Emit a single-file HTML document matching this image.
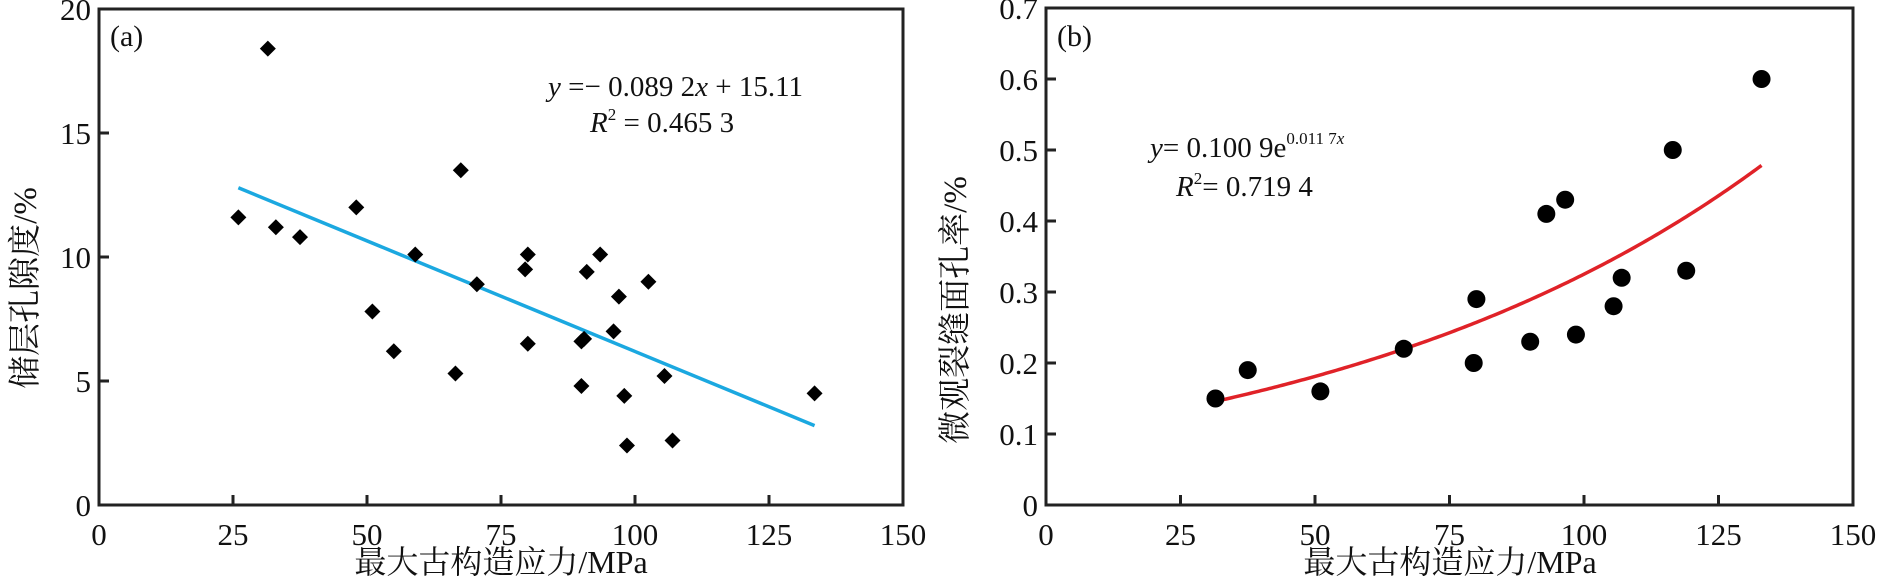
<!DOCTYPE html>
<html><head><meta charset="utf-8"><style>
body{margin:0;background:#fff}
svg text{font-family:"Liberation Serif","Noto Serif CJK SC",serif;fill:#111}
</style></head><body>
<svg id="s" width="1880" height="580" xmlns="http://www.w3.org/2000/svg"></svg>
<script>
const ax=[26,31.5,33,37.5,48,51,55,59,66.5,67.5,70.5,79.5,80,80,90,90,90.5,91,93.5,96,97,98,98.5,102.5,105.5,107,133.5];
const ay=[11.6,18.4,11.2,10.8,12,7.8,6.2,10.1,5.3,13.5,8.9,9.5,10.1,6.5,4.8,6.6,6.7,9.4,10.1,7,8.4,4.4,2.4,9,5.2,2.6,4.5];
const bx=[31.5,37.5,51,66.5,79.5,80,90,93,96.5,98.5,105.5,107,116.5,119,133];
const by=[0.15,0.19,0.16,0.22,0.2,0.29,0.23,0.41,0.43,0.24,0.28,0.32,0.5,0.33,0.6];
const xTicks=[0,25,50,75,100,125,150];
const ayTicks=[0,5,10,15,20];
const byTicks=[0,0.1,0.2,0.3,0.4,0.5,0.6,0.7];
const NS="http://www.w3.org/2000/svg",S=document.getElementById('s');
function el(t,a,txt){const e=document.createElementNS(NS,t);for(const k in a)e.setAttribute(k,a[k]);if(txt!==undefined)e.textContent=txt;S.appendChild(e);return e;}
function panel(L,R,T,B,ymax,yTicks,fmt,pfx){
  const X=v=>L+(R-L)*v/150, Y=v=>B-(B-T)*v/ymax;
  let f=el('rect',{x:L,y:T,width:R-L,height:B-T,fill:'none',stroke:'#222','stroke-width':3});
  
  
  xTicks.forEach(v=>{
    let l=el('line',{x1:X(v),x2:X(v),y1:B,y2:B-10,stroke:'#222','stroke-width':3});
    
    
    let t=el('text',{x:X(v),y:B+40,'font-size':31,'text-anchor':'middle'},v);
    
    
  });
  yTicks.forEach(v=>{
    let l=el('line',{x1:L,x2:L+10,y1:Y(v),y2:Y(v),stroke:'#222','stroke-width':3});
    
    
    let t=el('text',{x:L-8,y:Y(v)+11,'font-size':31,'text-anchor':'end'},fmt(v));
    
    
  });
  return {X,Y};
}
const A=panel(99,903,9,505,20,ayTicks,v=>v,'a');
const B=panel(1046,1853,8,505,0.7,byTicks,v=>v===0?'0':v.toFixed(1),'b');
let ln=el('line',{x1:A.X(26),y1:A.Y(-0.0892*26+15.11),x2:A.X(133.5),y2:A.Y(-0.0892*133.5+15.11),stroke:'#1ba8e0','stroke-width':3.5});


ax.forEach((x,i)=>{const cx=A.X(x),cy=A.Y(ay[i]);
  let p=el('polygon',{points:`${cx},${cy-8} ${cx+8},${cy} ${cx},${cy+8} ${cx-8},${cy}`,fill:'#000'});
  
  
});
let d='';for(let x=31.5;x<=133;x+=0.5){d+=(d?'L':'M')+B.X(x)+','+B.Y(0.1009*Math.exp(0.0117*x));}
let cv=el('path',{d:d,fill:'none',stroke:'#e02228','stroke-width':3.5});


bx.forEach((x,i)=>{
  let c=el('circle',{cx:B.X(x),cy:B.Y(by[i]),r:9,fill:'#000'});
  
  
});
</script>
<svg width="1880" height="580" style="position:absolute;left:0;top:0" xmlns="http://www.w3.org/2000/svg">
<g style="font-family:'Liberation Serif','Noto Serif CJK SC',serif;fill:#111">
<text x="110" y="46" font-size="30">(a)</text>
<text x="1057" y="46" font-size="30">(b)</text>
<text x="548" y="96" font-size="29"><tspan font-style="italic">y</tspan> =− 0.089 2<tspan font-style="italic">x</tspan> + 15.11</text>
<text x="590" y="132" font-size="29"><tspan font-style="italic">R</tspan><tspan font-size="17" dy="-12">2</tspan><tspan dy="12"> = 0.465 3</tspan></text>
<text x="1150" y="157" font-size="29"><tspan font-style="italic">y</tspan>= 0.100 9e<tspan font-size="17" dy="-13">0.011 7<tspan font-style="italic">x</tspan></tspan></text>
<text x="1176" y="196" font-size="29"><tspan font-style="italic">R</tspan><tspan font-size="17" dy="-12">2</tspan><tspan dy="12">= 0.719 4</tspan></text>
<text x="501" y="573" font-size="32" text-anchor="middle">最大古构造应力/MPa</text>
<text x="1450" y="573" font-size="32" text-anchor="middle">最大古构造应力/MPa</text>
<text transform="translate(36,288) rotate(-90)" font-size="33" text-anchor="middle">储层孔隙度/%</text>
<text transform="translate(966,310) rotate(-90)" font-size="33" text-anchor="middle">微观裂缝面孔率/%</text>
</g></svg>
</body></html>
